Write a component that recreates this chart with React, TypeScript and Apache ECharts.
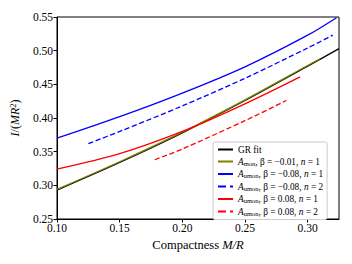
import React, { useEffect, useRef } from "react";
import * as echarts from "echarts";

const grX = [0.1, 0.15, 0.2, 0.25, 0.3, 0.325];
const grY = [0.293, 0.334, 0.378, 0.426, 0.477, 0.503];
const monX = [0.1, 0.15, 0.2, 0.25, 0.3, 0.31];
const monY = [0.294, 0.335, 0.379, 0.427, 0.478, 0.488];
const b1X = [0.1, 0.15, 0.2, 0.25, 0.3, 0.323];
const b1Y = [0.37, 0.402, 0.437, 0.476, 0.523, 0.549];
const b2X = [0.125, 0.15, 0.2, 0.25, 0.3, 0.32];
const b2Y = [0.362, 0.38, 0.418, 0.459, 0.504, 0.523];
const r1X = [0.1, 0.15, 0.2, 0.25, 0.294];
const r1Y = [0.324, 0.347, 0.38, 0.421, 0.461];
const r2X = [0.178, 0.2, 0.25, 0.283];
const r2Y = [0.338, 0.354, 0.396, 0.426];

const names = ["GR fit", "mon1", "umonB1", "umonB2", "umonR1", "umonR2"];
const legendText: Record<string, string> = {
  "GR fit": "{t|GR fit}",
  mon1: "{i|A}{s|mon}{t|, β = −0.01, }{i|n}{t| = 1}",
  umonB1: "{i|A}{s|umon}{t|, β = −0.08, }{i|n}{t| = 1}",
  umonB2: "{i|A}{s|umon}{t|, β = −0.08, }{i|n}{t| = 2}",
  umonR1: "{i|A}{s|umon}{t|, β = 0.08, }{i|n}{t| = 1}",
  umonR2: "{i|A}{s|umon}{t|, β = 0.08, }{i|n}{t| = 2}",
};

const zip = (xs: number[], ys: number[]) => xs.map((x, i) => [x, ys[i]]);
const FONT = "'Liberation Serif', 'DejaVu Serif', serif";

export default function App() {
  const ref = useRef<HTMLDivElement>(null);
  useEffect(() => {
    if (!ref.current) return;
    const chart = echarts.init(ref.current, null, { renderer: "svg" });
    const mk = (name: string, xs: number[], ys: number[], color: string, type: string, z: number) => ({
      name,
      type: "line",
      data: zip(xs, ys),
      symbol: "none",
      smooth: 0.3,
      z,
      lineStyle: { color, width: 1.3, type },
      itemStyle: { color },
    });
    chart.setOption({
      animation: false,
      grid: { left: 55, right: 13, top: 17, bottom: 45, show: true, borderColor: "#000", borderWidth: 1 },
      xAxis: {
        type: "value",
        min: 0.1,
        max: 0.325,
        interval: 0.05,
        name: "Compactness {i|M/R}",
        nameLocation: "middle",
        nameGap: 18,
        nameTextStyle: {
          fontFamily: FONT,
          fontSize: 12.5,
          color: "#000",
          rich: { i: { fontFamily: FONT, fontSize: 12.5, fontStyle: "italic", color: "#000" } },
        },
        axisLine: { show: true, lineStyle: { color: "#000", width: 1 } },
        axisTick: { show: true, inside: false, length: 3.5, lineStyle: { color: "#000" } },
        axisLabel: {
          fontFamily: FONT,
          fontSize: 11.5,
          color: "#000",
          margin: 3,
          showMaxLabel: false,
          formatter: (v: number) => (Math.abs(v * 20 - Math.round(v * 20)) < 1e-6 ? v.toFixed(2) : ""),
        },
        splitLine: { show: false },
      },
      yAxis: {
        type: "value",
        min: 0.25,
        max: 0.55,
        interval: 0.05,
        name: "{i|I}/({i|MR}{sup|2})",
        nameLocation: "middle",
        nameGap: 36,
        nameTextStyle: {
          fontFamily: FONT,
          fontSize: 12,
          color: "#000",
          rich: {
            i: { fontFamily: FONT, fontSize: 12, fontStyle: "italic", color: "#000" },
            sup: { fontFamily: FONT, fontSize: 8.5, color: "#000", verticalAlign: "top", padding: [0, 0, 4, 0] },
          },
        },
        axisLine: { show: true, lineStyle: { color: "#000", width: 1 } },
        axisTick: { show: true, inside: false, length: 3.5, lineStyle: { color: "#000" } },
        axisLabel: {
          fontFamily: FONT,
          fontSize: 11.5,
          color: "#000",
          margin: 4,
          formatter: (v: number) => v.toFixed(2),
        },
        splitLine: { show: false },
      },
      legend: {
        data: names,
        orient: "vertical",
        left: 213,
        top: 142,
        padding: [3, 4, 3, 4],
        itemGap: 3,
        itemWidth: 15,
        itemHeight: 8.5,
        backgroundColor: "#fff",
        borderColor: "#ccc",
        borderWidth: 1,
        borderRadius: 2,
        itemStyle: { opacity: 0 },
        formatter: (n: string) => legendText[n],
        textStyle: {
          fontFamily: FONT,
          fontSize: 9.3,
          color: "#000",
          rich: {
            t: { fontFamily: FONT, fontSize: 9.3, color: "#000" },
            i: { fontFamily: FONT, fontSize: 9.3, fontStyle: "italic", color: "#000" },
            s: { fontFamily: FONT, fontSize: 6.5, color: "#000", verticalAlign: "bottom", padding: [3, 0, 0, 0] },
          },
        },
      },
      series: [
        mk("GR fit", grX, grY, "#000000", "solid", 1),
        mk("mon1", monX, monY, "#808000", "solid", 2),
        mk("umonB1", b1X, b1Y, "#0000ff", "solid", 3),
        mk("umonB2", b2X, b2Y, "#0000ff", "dashed", 3),
        mk("umonR1", r1X, r1Y, "#ff0000", "solid", 3),
        mk("umonR2", r2X, r2Y, "#ff0000", "dashed", 3),
      ],
    });
    return () => chart.dispose();
  }, []);
  return <div ref={ref} style={{ width: 352, height: 264, position: "absolute", left: 0, top: 0 }} />;
}
